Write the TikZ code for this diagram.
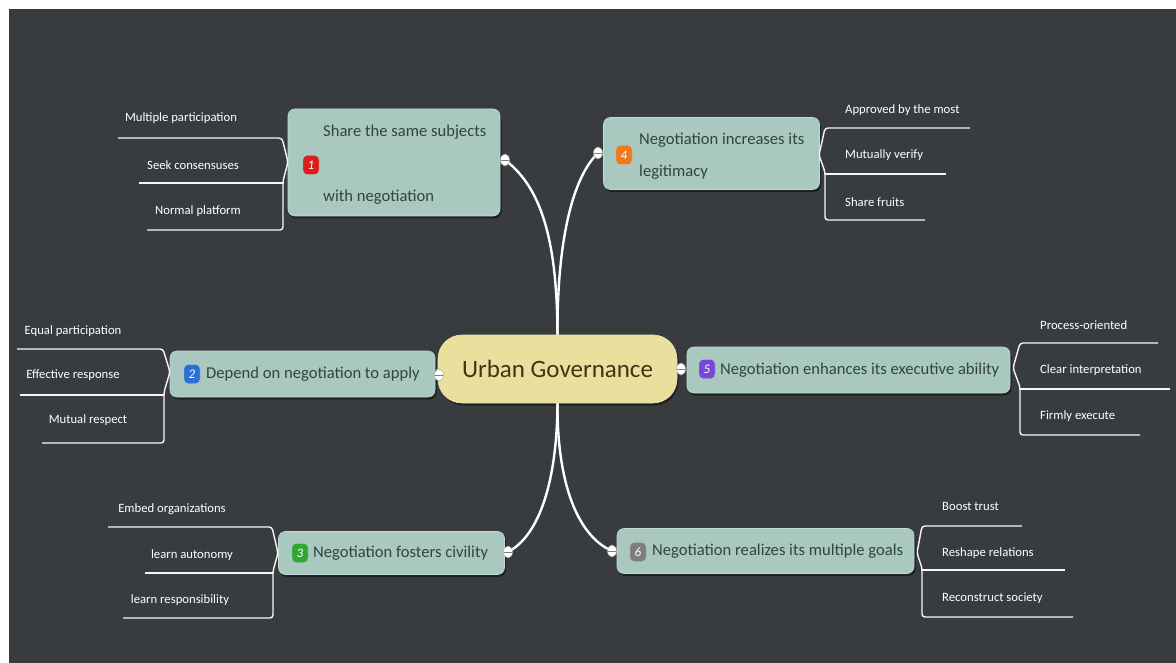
\documentclass[tikz,border=0pt]{standalone}
\usepackage{fontspec}
\setmainfont{Carlito}
\usetikzlibrary{shapes.geometric,shadows}
\definecolor{bg}{HTML}{383C3F}
\definecolor{nodefill}{HTML}{A8C8C0}
\definecolor{nodeborder}{HTML}{C4DAD4}
\definecolor{nodetext}{HTML}{34443F}
\definecolor{centerfill}{HTML}{EBDF9E}
\definecolor{centertext}{HTML}{3F3515}
\definecolor{b1}{HTML}{D81E1E}
\definecolor{b2}{HTML}{2A6FD6}
\definecolor{b3}{HTML}{2EA82E}
\definecolor{b4}{HTML}{F07A1A}
\definecolor{b5}{HTML}{7548D8}
\definecolor{b6}{HTML}{7E7E7E}
\tikzset{
  branch/.style={rounded corners=7pt, fill=nodefill, draw=nodeborder, line width=0.6pt, inner sep=0,
    drop shadow={shadow xshift=1.5pt, shadow yshift=-2.5pt, fill=black, opacity=0.45}},
  hub/.style={rounded corners=24pt, fill=centerfill, draw=centerfill!80!white, line width=0.6pt, inner sep=0,
    minimum width=239pt, minimum height=68pt, text=centertext, font=\fontsize{25}{28}\selectfont,
    drop shadow={shadow xshift=1.5pt, shadow yshift=-2.5pt, fill=black, opacity=0.45}},
  btext/.style={font=\fontsize{16.6}{19}\selectfont, text=nodetext, inner sep=0, anchor=west},
  badge/.style={rounded corners=4pt, minimum width=16pt, minimum height=19pt, inner sep=0, text=white,
    draw=black!25, line width=0.4pt, font=\fontsize{13}{14}\selectfont\itshape},
  leaf/.style={font=\fontsize{12.7}{15}\selectfont, text=white, inner sep=0},
  leafline/.style={draw=white!93!gray, line width=1.4pt, rounded corners=3pt},
  conn/.style={draw=white, line width=2.4pt},
  dot/.style={ellipse, minimum width=9pt, minimum height=12pt, fill=white, draw=gray!70, line width=0.5pt, inner sep=0,
    path picture={\draw[gray, line width=0.8pt] (path picture bounding box.west) -- (path picture bounding box.east);}}
}
\begin{document}
\begin{tikzpicture}[x=1pt,y=-1pt]
\useasboundingbox (0,0) rectangle (1176,663);
\fill[white] (0,0) rectangle (1176,663);
\fill[bg] (9,9) rectangle (1176,663);

% central node
\node[hub] (c) at (557.5,369) {Urban Governance};

% branch boxes
\node[branch, minimum width=212pt, minimum height=107pt] (n1) at (394,162.5) {};
\node[branch, minimum width=216pt, minimum height=72pt] (n4) at (711.5,153.5) {};
\node[branch, minimum width=265pt, minimum height=46pt] (n2) at (302.5,374) {};
\node[branch, minimum width=323pt, minimum height=46pt] (n5) at (848.5,370) {};
\node[branch, minimum width=226pt, minimum height=43pt] (n3) at (391.5,553) {};
\node[branch, minimum width=297pt, minimum height=45pt] (n6) at (765.5,551) {};

% badges
\node[badge, fill=b1] (k1) at (311,165) {1};
\node[badge, fill=b4] (k4) at (624,155) {4};
\node[badge, fill=b2] (k2) at (192,374) {2};
\node[badge, fill=b5] (k5) at (707,369) {5};
\node[badge, fill=b3] (k3) at (300,553) {3};
\node[badge, fill=b6] (k6) at (638,552) {6};

% branch texts
\node[btext] (t1a) at (323,132) {Share the same subjects};
\node[btext] (t1b) at (323,197) {with negotiation};
\node[btext] (t4a) at (639,140) {Negotiation increases its};
\node[btext] (t4b) at (639,172) {legitimacy};
\node[btext] (t2) at (206,374) {Depend on negotiation to apply};
\node[btext] (t5) at (720,370) {Negotiation enhances its executive ability};
\node[btext] (t3) at (313,553) {Negotiation fosters civility};
\node[btext] (t6) at (652,551) {Negotiation realizes its multiple goals};

% connectors
\coordinate (p1) at (505,160);
\coordinate (p4) at (598,153);
\coordinate (p2) at (439,375);
\coordinate (p5) at (681,369);
\coordinate (p3) at (508,552);
\coordinate (p6) at (612,551);
\draw[conn] (c.north) .. controls (557,250) and (545,190) .. (p1);
\draw[conn] (c.north) .. controls (557,250) and (570,180) .. (p4);
\draw[conn] (c.south) .. controls (557,480) and (540,535) .. (p3);
\draw[conn] (c.south) .. controls (557,480) and (576,535) .. (p6);
\draw[conn] (c.west) -- (p2);
\draw[conn] (c.east) -- (p5);
\node[dot] (d1) at (p1) {};
\node[dot] (d4) at (p4) {};
\node[dot] (d2) at (p2) {};
\node[dot] (d5) at (p5) {};
\node[dot] (d3) at (p3) {};
\node[dot] (d6) at (p6) {};

% leaves of 1
\node[leaf] (l1a) at (181,118) {Multiple participation};
\node[leaf] (l1b) at (193,165) {Seek consensuses};
\node[leaf] (l1c) at (198,211) {Normal platform};
\draw[leafline] (118,138) -- (282,138) -- (288,162) -- (283,181) -- (283,230) -- (147,230);
\draw[leafline] (139,183) -- (283,183);

% leaves of 2
\node[leaf] (l2a) at (73,331) {Equal participation};
\node[leaf] (l2b) at (73,375) {Effective response};
\node[leaf] (l2c) at (88,420) {Mutual respect};
\draw[leafline] (17,349) -- (163,349) -- (170,372) -- (164,392) -- (164,443) -- (42,443);
\draw[leafline] (20,395) -- (164,395);

% leaves of 3
\node[leaf] (l3a) at (172,509) {Embed organizations};
\node[leaf] (l3b) at (192,555) {learn autonomy};
\node[leaf] (l3c) at (180,600) {learn responsibility};
\draw[leafline] (108,527) -- (272,527) -- (278,553) -- (273,571) -- (273,618) -- (123,618);
\draw[leafline] (145,573) -- (273,573);

% leaves of 4
\node[leaf, anchor=west] (l4a) at (845,110) {Approved by the most};
\node[leaf, anchor=west] (l4b) at (845,155) {Mutually verify};
\node[leaf, anchor=west] (l4c) at (845,202) {Share fruits};
\draw[leafline] (970,128) -- (825,128) -- (819,155) -- (825,172) -- (825,220) -- (925,220);
\draw[leafline] (946,174) -- (825,174);

% leaves of 5
\node[leaf, anchor=west] (l5a) at (1040,325) {Process-oriented};
\node[leaf, anchor=west] (l5b) at (1040,370) {Clear interpretation};
\node[leaf, anchor=west] (l5c) at (1040,416) {Firmly execute};
\draw[leafline] (1158,343) -- (1020,343) -- (1013,368) -- (1020,387) -- (1020,435) -- (1140,435);
\draw[leafline] (1170,389) -- (1020,389);

% leaves of 6
\node[leaf, anchor=west] (l6a) at (942,506) {Boost trust};
\node[leaf, anchor=west] (l6b) at (942,553) {Reshape relations};
\node[leaf, anchor=west] (l6c) at (942,598) {Reconstruct society};
\draw[leafline] (1022,526) -- (922,526) -- (917,553) -- (922,568) -- (922,617) -- (1073,617);
\draw[leafline] (1065,570) -- (922,570);
\end{tikzpicture}
\end{document}
